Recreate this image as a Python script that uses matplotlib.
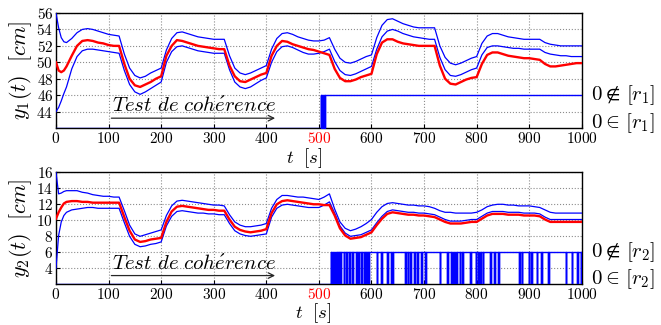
import numpy as np
import matplotlib
matplotlib.use("Agg")
import matplotlib.pyplot as plt

plt.rcParams.update({"font.family": "serif", "font.serif": ["cmr10", "DejaVu Serif"],
                     "mathtext.fontset": "cm", "axes.unicode_minus": False,
                     "axes.formatter.use_mathtext": True})

BLUE = "#0000ff"
RED = "#ff0000"

# ---- sample times (s) ----
t = [0, 5, 10, 15] + list(range(20, 1001, 10))

# ---- y1: upper bound, lower bound, measurement ----
y1_up = [56.0, 54.2, 53.0, 52.5, 52.4, 52.9, 53.6, 54.0, 54.1, 54.0, 53.8, 53.6,
         53.4, 53.3, 53.2, 51.0, 49.3, 48.4, 48.1, 48.3, 48.7, 49.0,
         49.3, 51.5, 52.9, 53.6, 53.7, 53.5, 53.3, 53.1, 53.0, 52.9,
         52.8, 52.8, 52.8, 50.8, 49.3, 48.7, 48.5, 48.7, 49.0, 49.3,
         49.6, 51.6, 52.9, 53.5, 53.6, 53.4, 53.1, 52.9, 52.7, 52.6,
         52.6, 52.7, 53.0, 51.6, 50.5, 50.0, 49.9, 50.1, 50.4, 50.7,
         50.9, 53.0, 54.5, 55.2, 55.3, 55.0, 54.7, 54.5, 54.3, 54.2,
         54.2, 54.2, 54.2, 52.0, 50.6, 49.9, 49.7, 49.9, 50.2, 50.5,
         50.7, 52.3, 53.2, 53.5, 53.5, 53.3, 53.1, 53.0, 52.9, 52.8,
         52.8, 52.8, 52.8, 52.4, 52.2, 52.1, 52.0, 52.0, 52.0, 52.0,
         52.0]
y1_lo = [44.0, 44.5, 45.3, 46.2, 47.0, 49.2, 50.7, 51.4, 51.6, 51.6, 51.5, 51.4,
         51.3, 51.2, 51.1, 49.0, 47.3, 46.4, 46.1, 46.4, 46.8, 47.2,
         47.6, 50.0, 51.3, 51.9, 52.0, 51.8, 51.6, 51.4, 51.3, 51.2,
         51.1, 51.1, 51.1, 49.1, 47.6, 47.0, 46.8, 47.0, 47.4, 47.8,
         48.1, 50.0, 51.3, 51.9, 52.0, 51.8, 51.5, 51.2, 51.0, 51.0,
         51.1, 51.3, 51.6, 50.1, 49.0, 48.5, 48.4, 48.6, 48.9, 49.2,
         49.5, 51.6, 53.1, 53.8, 54.0, 53.8, 53.5, 53.3, 53.1, 53.0,
         52.9, 52.8, 52.8, 50.6, 49.1, 48.4, 48.3, 48.5, 48.8, 49.1,
         49.3, 50.9, 51.8, 52.0, 52.0, 51.9, 51.8, 51.7, 51.7, 51.6,
         51.6, 51.6, 51.6, 51.2, 51.0, 50.9, 50.8, 50.8, 50.7, 50.7,
         50.7]
y1_meas = [50.0, 49.0, 48.8, 49.0, 49.5, 50.8, 52.0, 52.6, 52.7, 52.6, 52.4, 52.3,
           52.1, 52.0, 52.0, 49.8, 48.0, 47.2, 47.0, 47.3, 47.6, 48.0,
           48.3, 50.8, 52.0, 52.7, 52.6, 52.4, 52.2, 52.0, 51.9, 51.8,
           51.7, 51.6, 51.6, 49.6, 48.3, 47.7, 47.6, 47.9, 48.2, 48.5,
           48.7, 50.8, 52.0, 52.6, 52.5, 52.2, 52.0, 51.8, 51.6, 51.5,
           51.3, 51.1, 50.9, 49.2, 48.1, 47.7, 47.7, 47.9, 48.2, 48.4,
           48.6, 51.0, 52.4, 52.8, 52.8, 52.5, 52.3, 52.2, 52.1, 52.0,
           52.0, 52.0, 52.0, 49.6, 48.0, 47.4, 47.3, 47.6, 47.9, 48.1,
           48.2, 49.8, 50.9, 51.2, 51.2, 51.0, 50.8, 50.7, 50.6, 50.5,
           50.5, 50.4, 50.3, 49.8, 49.5, 49.5, 49.6, 49.7, 49.8, 49.9,
           49.9]

# ---- y2: upper bound, lower bound, measurement ----
y2_up = [16.0, 13.3, 13.4, 13.6, 13.7, 13.7, 13.7, 13.5, 13.4, 13.2, 13.1, 13.0,
         13.0, 12.9, 12.9, 11.2, 9.4, 8.3, 8.0, 8.2, 8.4, 8.6,
         8.8, 10.6, 11.8, 12.4, 12.5, 12.4, 12.3, 12.2, 12.1, 12.0,
         11.9, 11.9, 11.8, 10.7, 9.8, 9.4, 9.2, 9.2, 9.3, 9.4,
         9.6, 11.5, 12.6, 13.1, 13.1, 13.0, 12.9, 12.9, 12.8, 12.7,
         12.6, 12.9, 13.3, 11.4, 9.8, 9.0, 8.7, 8.9, 9.2, 9.6,
         10.1, 11.0, 11.7, 12.1, 12.2, 12.1, 12.0, 11.9, 11.9, 11.8,
         11.8, 11.7, 11.5, 11.2, 11.0, 11.0, 10.9, 10.9, 10.9, 10.9,
         11.0, 11.3, 11.7, 11.9, 12.0, 12.0, 11.9, 11.9, 11.8, 11.8,
         11.8, 11.7, 11.6, 11.3, 11.0, 10.9, 10.9, 10.9, 10.9, 10.9,
         10.9]
y2_lo = [4.0, 8.1, 9.8, 10.6, 11.0, 11.3, 11.4, 11.5, 11.6, 11.6, 11.5, 11.5,
         11.5, 11.5, 11.5, 9.7, 8.0, 7.0, 6.7, 6.8, 7.0, 7.1,
         7.3, 9.3, 10.5, 11.1, 11.2, 11.1, 11.0, 10.9, 10.9, 10.8,
         10.8, 10.7, 10.7, 9.6, 8.7, 8.3, 8.1, 8.0, 8.1, 8.2,
         8.3, 10.4, 11.5, 11.9, 12.0, 11.9, 11.8, 11.7, 11.6, 11.6,
         11.6, 11.9, 12.3, 10.9, 9.3, 8.4, 8.0, 8.1, 8.2, 8.5,
         8.8, 9.7, 10.5, 11.1, 11.3, 11.2, 11.1, 11.0, 11.0, 10.9,
         10.9, 10.8, 10.7, 10.4, 10.1, 9.9, 9.9, 9.9, 10.0, 10.1,
         10.1, 10.5, 10.9, 11.1, 11.1, 11.1, 11.0, 11.0, 11.0, 10.9,
         10.9, 10.9, 10.8, 10.4, 10.1, 10.1, 10.1, 10.1, 10.1, 10.1,
         10.1]
y2_meas = [10.2, 11.0, 11.6, 12.1, 12.3, 12.4, 12.4, 12.3, 12.3, 12.2, 12.2, 12.2,
           12.2, 12.2, 12.2, 10.4, 8.7, 7.6, 7.3, 7.4, 7.6, 7.7,
           7.8, 9.8, 11.1, 11.7, 11.8, 11.7, 11.6, 11.5, 11.4, 11.3,
           11.3, 11.2, 11.2, 10.1, 9.2, 8.8, 8.6, 8.5, 8.6, 8.7,
           8.9, 10.9, 12.0, 12.4, 12.5, 12.4, 12.3, 12.2, 12.1, 12.0,
           12.0, 11.9, 11.9, 10.6, 9.0, 8.1, 7.7, 7.8, 7.9, 8.2,
           8.5, 9.4, 10.2, 10.8, 11.0, 10.9, 10.8, 10.7, 10.7, 10.6,
           10.6, 10.5, 10.4, 10.1, 9.8, 9.6, 9.6, 9.6, 9.7, 9.8,
           9.8, 10.2, 10.6, 10.8, 10.8, 10.8, 10.7, 10.7, 10.7, 10.6,
           10.6, 10.6, 10.5, 10.1, 9.8, 9.8, 9.8, 9.8, 9.8, 9.8,
           9.8]

# ---- consistency test indicators: switch-on time and dips back to "0 in [r]" ----
r1_on = 504
r1_dips = [(504, 512)]
r2_on = 523
r2_dips = [(523, 534), (537, 538), (541, 542), (547, 548), (552, 553), (557, 559),
           (563, 565), (571, 572), (575, 576), (581, 582), (586, 587), (590, 592),
           (594, 595), (610, 611), (619, 620), (630, 631), (638, 640), (664, 665),
           (669, 670), (674, 675), (681, 682), (687, 688), (695, 696), (702, 703),
           (730, 731), (744, 745), (752, 762), (768, 769), (773, 774), (788, 789),
           (798, 799), (803, 809), (812, 813), (826, 827), (833, 834), (841, 842),
           (881, 882), (886, 887), (899, 900), (904, 905), (914, 915), (923, 924),
           (936, 937), (969, 970), (981, 982), (991, 992), (998, 999)]

xticks = list(range(0, 1001, 100))


def indicator(ax, on, dips, lo, hi):
    ts, vs = [0, on], [lo, hi]
    for a, b in dips:
        ts += [a, b]
        vs += [lo, hi]
    ts.append(1000); vs.append(hi)
    ax.plot(ts, vs, drawstyle="steps-post", color=BLUE, lw=1.0, zorder=3)
    ax.broken_barh([(a, b - a) for a, b in dips], (lo, hi - lo), color=BLUE, zorder=3)


def panel(rect, up, lo, meas, ylim, yticks, ylabel, on, dips, ind, rname,
          note_y, xlab_pos):
    ax = fig.add_axes(rect)
    ax.plot(t, up, color=BLUE, lw=0.9, zorder=4)
    ax.plot(t, lo, color=BLUE, lw=0.9, zorder=4)
    ax.plot(t, meas, color=RED, lw=1.7, zorder=5)
    indicator(ax, on, dips, *ind)
    ax.set_xlim(0, 1000); ax.set_ylim(*ylim)
    ax.set_xticks(xticks); ax.set_yticks(yticks)
    ax.tick_params(labelsize=11, direction="in", length=3, pad=2)
    ax.get_xticklabels()[5].set_color(RED)
    ax.grid(True, linestyle=":", color="0.55", lw=0.8)
    for s in ax.spines.values():
        s.set_linewidth(1.0)
    ax.text(-0.068, 0.5, ylabel, transform=ax.transAxes, rotation=90,
            ha="center", va="center", fontsize=16)
    ax.text(xlab_pos[0], xlab_pos[1], r"$t\ \ [s]$", transform=ax.transAxes,
            ha="center", va="center", fontsize=13.5)
    # right-hand state labels
    ax.text(1.018, ind[1], r"$0\notin\,[r_%s]$" % rname, transform=ax.get_yaxis_transform(),
            ha="left", va="center", fontsize=15)
    ax.text(1.018, ind[0] + 0.6 * (ylim[1] - ylim[0]) / 14, r"$0\in\,[r_%s]$" % rname,
            transform=ax.get_yaxis_transform(), ha="left", va="center", fontsize=15)
    # "Test de coherence" arrow
    ax.annotate("", xy=(422, note_y[1]), xytext=(100, note_y[1]),
                arrowprops=dict(arrowstyle="->", color="0.15", lw=0.9))
    ax.text(263, note_y[0], r"$\mathit{Test\ de\ coh\acute{e}rence}$",
            ha="center", va="center", fontsize=15)
    return ax


fig = plt.figure(figsize=(6.61, 3.25), dpi=100)
panel([0.0847, 0.606, 0.7955, 0.354], y1_up, y1_lo, y1_meas, (42, 56),
      [44, 46, 48, 50, 52, 54, 56], r"$y_1(t)\ \ [cm]$", r1_on, r1_dips, (42, 46), "1",
      (44.7, 43.2), (0.473, -0.265))
panel([0.0847, 0.125, 0.7955, 0.345], y2_up, y2_lo, y2_meas, (2, 16),
      [4, 6, 8, 10, 12, 14, 16], r"$y_2(t)\ \ [cm]$", r2_on, r2_dips, (2, 6), "2",
      (4.5, 3.1), (0.489, -0.258))

fig.savefig("out.png", dpi=100)
